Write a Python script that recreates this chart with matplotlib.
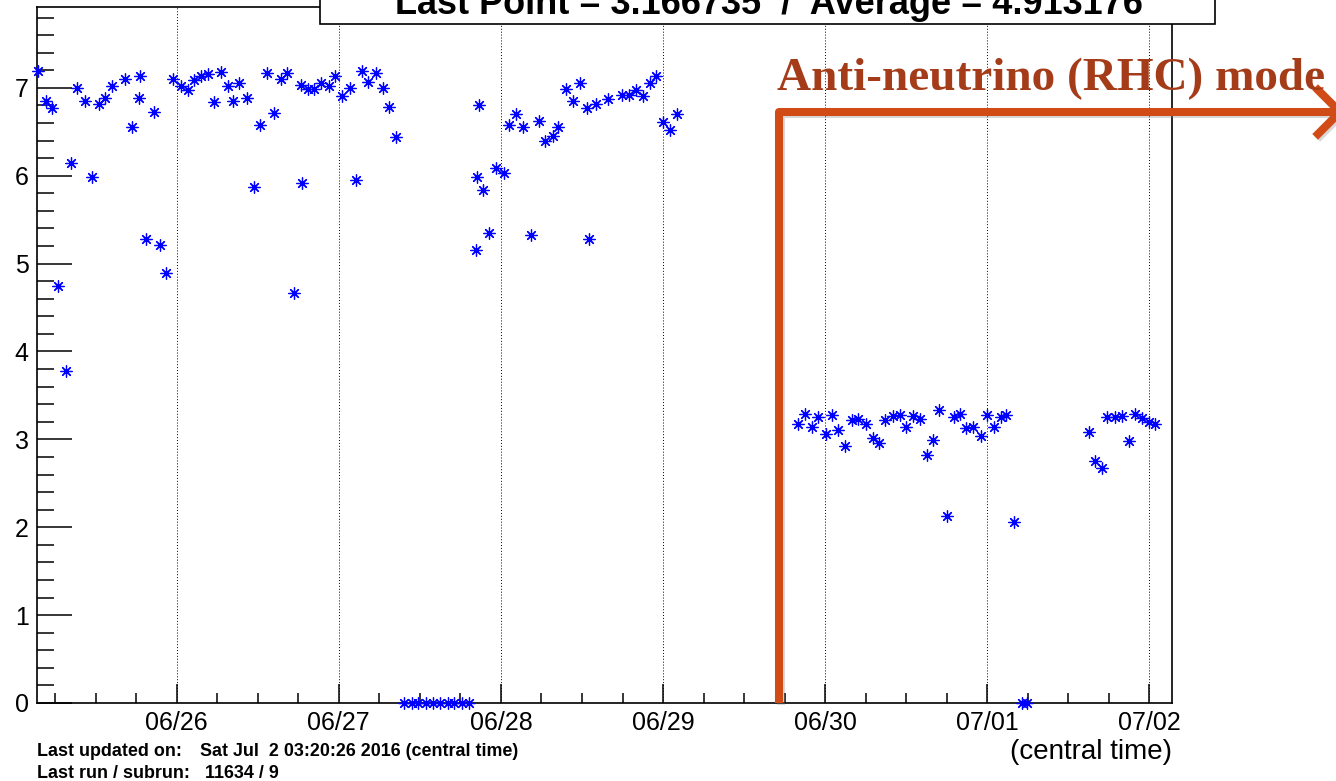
import numpy as np
import pandas as pd
import matplotlib
matplotlib.use('Agg')
import matplotlib.pyplot as plt
import matplotlib.dates as mdates
import matplotlib.patheffects as pe
from matplotlib.lines import Line2D
from matplotlib.patches import Rectangle

plt.rcParams['font.family'] = ['Liberation Sans', 'DejaVu Sans']

# hours since 06/25 00:00 (central time)
hours_fhc = [3.5, 4.6, 5.6, 6.5, 7.6, 8.4, 9.3, 10.5, 11.5, 12.5, 13.4, 14.4,
             16.3, 17.4, 18.6, 18.5, 19.5, 20.6, 21.6, 22.5, 23.5, 24.6, 25.7,
             26.6, 27.6, 28.7, 29.5, 30.6, 31.6, 32.3, 33.3, 34.4, 35.5, 36.4,
             37.4, 38.4, 39.4, 40.4, 41.4, 42.4, 42.5, 43.5, 44.4, 45.4, 46.5,
             47.5, 48.5, 49.6, 50.6, 51.5, 52.4, 53.5, 54.5, 55.5, 56.4]
vals_fhc = [7.19, 6.85, 6.77, 4.75, 3.78, 6.15, 7.00, 6.85, 5.99, 6.82, 6.88, 7.02,
            7.10, 6.55, 7.13, 6.89, 5.28, 6.73, 5.21, 4.89, 7.10, 7.02, 6.98,
            7.09, 7.13, 7.16, 6.84, 7.18, 7.02, 6.85, 7.06, 6.89, 5.87, 6.58,
            7.17, 6.71, 7.10, 7.17, 4.66, 7.03, 5.92, 6.99, 6.99, 7.06, 7.02,
            7.13, 6.91, 7.00, 5.95, 7.19, 7.07, 7.17, 7.00, 6.78, 6.44]

hours_off = [57.7, 58.8, 59.8, 60.9, 61.9, 63.0, 64.1, 65.1, 66.2, 67.3]
vals_off = [0, 0, 0, 0, 0, 0, 0, 0, 0, 0]

hours_fhc2 = [68.7, 68.5, 68.3, 69.4, 70.2, 71.3, 72.4, 73.2, 74.2, 75.3, 76.5,
              77.6, 78.6, 79.7, 80.4, 81.6, 82.7, 83.7, 84.8, 85.0, 86.1, 87.9,
              89.9, 91.0, 92.0, 93.1, 94.1, 95.0, 96.0, 97.1, 98.1]
vals_fhc2 = [6.81, 5.99, 5.15, 5.84, 5.35, 6.09, 6.03, 6.58, 6.70, 6.56, 5.32,
             6.62, 6.39, 6.45, 6.55, 6.99, 6.85, 7.06, 6.77, 5.28, 6.82, 6.87,
             6.92, 6.92, 6.98, 6.91, 7.05, 7.13, 6.61, 6.52, 6.70]

hours_rhc = [116.0, 117.0, 118.0, 119.0, 120.1, 121.0, 121.9, 123.0, 124.0, 124.9,
             126.0, 127.1, 128.0, 128.9, 130.0, 131.1, 132.0, 133.0, 134.0, 135.0,
             136.0, 136.9, 138.0, 139.1, 140.0, 140.9, 141.9, 143.1, 143.9, 145.0,
             146.0, 146.8, 147.9, 149.1, 149.9,
             159.0, 159.9, 161.0, 161.7, 162.9, 163.9, 164.9, 165.8, 166.9, 167.9,
             168.8]
vals_rhc = [3.18, 3.29, 3.14, 3.25, 3.06, 3.28, 3.11, 2.92, 3.22, 3.23,
            3.18, 3.01, 2.96, 3.22, 3.27, 3.28, 3.14, 3.27, 3.23, 2.82,
            2.99, 3.33, 2.13, 3.26, 3.29, 3.13, 3.14, 3.04, 3.28, 3.14,
            3.25, 3.28, 2.06, 0, 0,
            3.08, 2.75, 2.67, 3.26, 3.26, 3.27, 2.98, 3.29, 3.24, 3.20,
            3.17]

title = 'Last Point = 3.166735  /  Average = 4.913176'
updated = 'Sat Jul  2 03:20:26 2016 (central time)'
last_run = '11634 / 9'

W, H = 1336, 781


def fx(px):
    return px / W


def fy(py):
    return 1 - py / H


base = pd.Timestamp('2016-06-25 00:00')
hours = hours_fhc + hours_off + hours_fhc2 + hours_rhc
vals = vals_fhc + vals_off + vals_fhc2 + vals_rhc
times = base + pd.to_timedelta(hours, unit='h')

fig = plt.figure(figsize=(W / 100, H / 100), dpi=100)
ax = fig.add_axes([fx(37), fy(703), fx(1172) - fx(37), fy(7) - fy(703)])

ax.plot(times, vals, linestyle='none', marker=(8, 2, 0), ms=8.6,
        mew=0.9, color='#0000ff', clip_on=False, zorder=3)

ax.set_xlim(pd.Timestamp('2016-06-25 03:20'), pd.Timestamp('2016-07-02 03:20'))
ax.set_ylim(0, 7.92)

ax.xaxis.set_major_locator(mdates.DayLocator())
ax.xaxis.set_major_formatter(mdates.DateFormatter('%m/%d'))
ax.xaxis.set_minor_locator(mdates.HourLocator(byhour=[0, 6, 12, 18]))
ax.yaxis.set_major_locator(plt.MultipleLocator(1))
ax.yaxis.set_minor_locator(plt.MultipleLocator(0.2))

ax.tick_params(axis='x', which='major', direction='in', length=14, width=1.1,
               labelsize=18, pad=6)
ax.tick_params(axis='x', which='minor', direction='in', length=7, width=1.1)
ax.tick_params(axis='y', which='major', direction='in', length=25, width=1.1,
               labelsize=18, pad=6)
ax.tick_params(axis='y', which='minor', direction='in', length=12, width=1.1)
ax.grid(True, axis='x', which='major', color='black', linestyle=(0, (1, 2)),
        linewidth=0.7)
for s in ax.spines.values():
    s.set_linewidth(1.2)

# title pave (top cut by the canvas edge)
fig.add_artist(Rectangle((fx(320), fy(24)), fx(1215) - fx(320), 0.1,
                         transform=fig.transFigure, facecolor='white',
                         edgecolor='black', linewidth=1.2, zorder=5))
fig.text(fx(769), fy(14), title, ha='center', va='baseline', fontsize=26,
         fontweight='bold', zorder=6)

fig.text(fx(1172), fy(752), '(central time)', ha='right', va='center',
         fontsize=20)
fig.text(fx(37), fy(752), 'Last updated on:', ha='left', va='center',
         fontsize=12.9, fontweight='bold')
fig.text(fx(200), fy(752), updated, ha='left', va='center',
         fontsize=12.9, fontweight='bold')
fig.text(fx(37), fy(774), 'Last run / subrun:', ha='left', va='center',
         fontsize=12.9, fontweight='bold')
fig.text(fx(205), fy(774), last_run, ha='left', va='center',
         fontsize=12.9, fontweight='bold')

# RHC mode annotation
orange = '#d14b17'
shadow = [pe.SimpleLineShadow(offset=(1.5, -1.5), shadow_color='gray', alpha=0.3),
          pe.Normal()]
fig.add_artist(Line2D([fx(779), fx(779), fx(1336)], [fy(703), fy(112), fy(112)],
                      transform=fig.transFigure, color=orange, linewidth=5.8,
                      solid_joinstyle='round', solid_capstyle='butt',
                      path_effects=shadow, zorder=7))
fig.add_artist(Line2D([fx(1318), fx(1340), fx(1318)], [fy(90), fy(112), fy(134)],
                      transform=fig.transFigure, color=orange, linewidth=5.8,
                      solid_joinstyle='round', path_effects=shadow, zorder=7))
fig.text(fx(777), fy(90), 'Anti-neutrino (RHC) mode', ha='left', va='baseline',
         fontsize=34, fontweight='bold', color='#a53c19',
         family=['Liberation Serif', 'DejaVu Serif'], zorder=8)

fig.savefig('out.png', dpi=100)
